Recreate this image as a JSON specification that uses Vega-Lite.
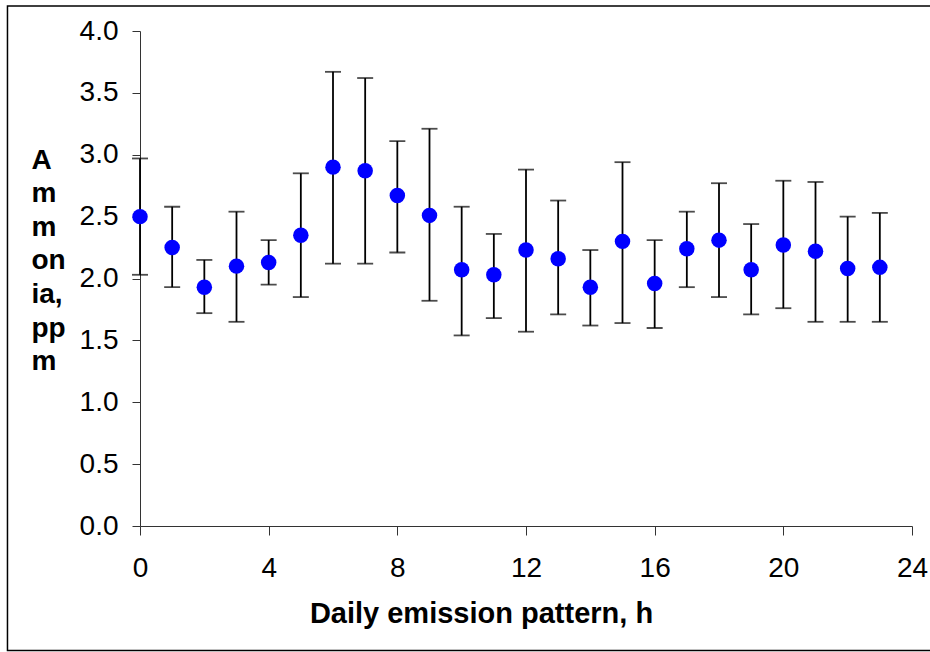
{
  "$schema": "https://vega.github.io/schema/vega-lite/v6.json",
  "autosize": "none",
  "width": 772,
  "height": 495,
  "padding": {"left": 140, "top": 31, "right": 18, "bottom": 126},
  "background": "white",
  "config": {
    "view": {"stroke": null},
    "font": "Liberation Sans"
  },
  "datasets": {
    "frame": [{"x1": -4.12, "x2": 24.7, "y1": -1.006, "y2": 4.202}]
  },
  "data": {
    "values": [
      {"hour": 0, "mean": 2.50, "lo": 2.03, "hi": 2.97},
      {"hour": 1, "mean": 2.25, "lo": 1.93, "hi": 2.58},
      {"hour": 2, "mean": 1.93, "lo": 1.72, "hi": 2.15},
      {"hour": 3, "mean": 2.10, "lo": 1.65, "hi": 2.54},
      {"hour": 4, "mean": 2.13, "lo": 1.95, "hi": 2.31},
      {"hour": 5, "mean": 2.35, "lo": 1.85, "hi": 2.85},
      {"hour": 6, "mean": 2.90, "lo": 2.12, "hi": 3.67},
      {"hour": 7, "mean": 2.87, "lo": 2.12, "hi": 3.62},
      {"hour": 8, "mean": 2.67, "lo": 2.21, "hi": 3.11},
      {"hour": 9, "mean": 2.51, "lo": 1.82, "hi": 3.21},
      {"hour": 10, "mean": 2.07, "lo": 1.54, "hi": 2.58},
      {"hour": 11, "mean": 2.03, "lo": 1.68, "hi": 2.36},
      {"hour": 12, "mean": 2.23, "lo": 1.57, "hi": 2.88},
      {"hour": 13, "mean": 2.16, "lo": 1.71, "hi": 2.63},
      {"hour": 14, "mean": 1.93, "lo": 1.62, "hi": 2.23},
      {"hour": 15, "mean": 2.30, "lo": 1.64, "hi": 2.94},
      {"hour": 16, "mean": 1.96, "lo": 1.60, "hi": 2.31},
      {"hour": 17, "mean": 2.24, "lo": 1.93, "hi": 2.54},
      {"hour": 18, "mean": 2.31, "lo": 1.85, "hi": 2.77},
      {"hour": 19, "mean": 2.07, "lo": 1.71, "hi": 2.44},
      {"hour": 20, "mean": 2.27, "lo": 1.76, "hi": 2.79},
      {"hour": 21, "mean": 2.22, "lo": 1.65, "hi": 2.78},
      {"hour": 22, "mean": 2.08, "lo": 1.65, "hi": 2.50},
      {"hour": 23, "mean": 2.09, "lo": 1.65, "hi": 2.53}
    ]
  },
  "layer": [
    {
      "data": {"name": "frame"},
      "mark": {"type": "rect", "fill": null, "stroke": "#000000", "strokeWidth": 1.5, "clip": false},
      "encoding": {
        "x": {"field": "x1", "type": "quantitative", "title": "Daily emission pattern, h", "scale": {"domain": [0, 24], "nice": false, "zero": false}},
        "x2": {"field": "x2"},
        "y": {"field": "y1", "type": "quantitative", "title": ["A", "m", "m", "on", "ia,", "pp", "m"], "scale": {"domain": [0, 4], "nice": false}},
        "y2": {"field": "y2"}
      }
    },
    {
      "mark": {
        "type": "errorbar",
        "ticks": {"size": 16, "thickness": 1.8, "color": "#000000"},
        "rule": {"strokeWidth": 1.8, "color": "#000000"},
        "color": "#000000"
      },
      "encoding": {
        "x": {"field": "hour", "type": "quantitative", "title": "Daily emission pattern, h"},
        "y": {"field": "lo", "type": "quantitative", "title": ["A", "m", "m", "on", "ia,", "pp", "m"]},
        "y2": {"field": "hi"}
      }
    },
    {
      "mark": {"type": "circle", "size": 240, "color": "#0000FF", "opacity": 1},
      "encoding": {
        "x": {
          "field": "hour",
          "type": "quantitative",
          "title": "Daily emission pattern, h",
          "scale": {"domain": [0, 24], "nice": false, "zero": false},
          "axis": {
            "values": [0, 4, 8, 12, 16, 20, 24],
            "grid": false,
            "titleFont": "Liberation Sans",
            "titleFontSize": 29,
            "titleFontWeight": "bold",
            "titleColor": "#000000",
            "titleX": 341,
            "titleY": 96,
            "titleBaseline": "alphabetic",
            "titleAlign": "center",
            "labelFont": "Liberation Sans",
            "labelFontSize": 28,
            "labelColor": "#000000",
            "labelPadding": 19,
            "labelFlush": false,
            "labelOverlap": false,
            "tickSize": 9,
            "tickColor": "#333333",
            "domainColor": "#333333",
            "tickWidth": 1,
            "domainWidth": 1
          }
        },
        "y": {
          "field": "mean",
          "type": "quantitative",
          "title": ["A", "m", "m", "on", "ia,", "pp", "m"],
          "scale": {"domain": [0, 4], "nice": false},
          "axis": {
            "values": [0, 0.5, 1, 1.5, 2, 2.5, 3, 3.5, 4],
            "format": ".1f",
            "grid": false,
            "titleFont": "Liberation Sans",
            "titleFontSize": 28,
            "titleFontWeight": "bold",
            "titleColor": "#000000",
            "titleAngle": 0,
            "titleAlign": "left",
            "titleBaseline": "alphabetic",
            "titleLineHeight": 33.6,
            "titleX": -109,
            "titleY": 137,
            "labelFont": "Liberation Sans",
            "labelFontSize": 28,
            "labelColor": "#000000",
            "labelPadding": 14,
            "labelFlush": false,
            "labelOverlap": false,
            "tickSize": 8,
            "tickColor": "#333333",
            "domainColor": "#333333",
            "tickWidth": 1,
            "domainWidth": 1
          }
        }
      }
    }
  ]
}
